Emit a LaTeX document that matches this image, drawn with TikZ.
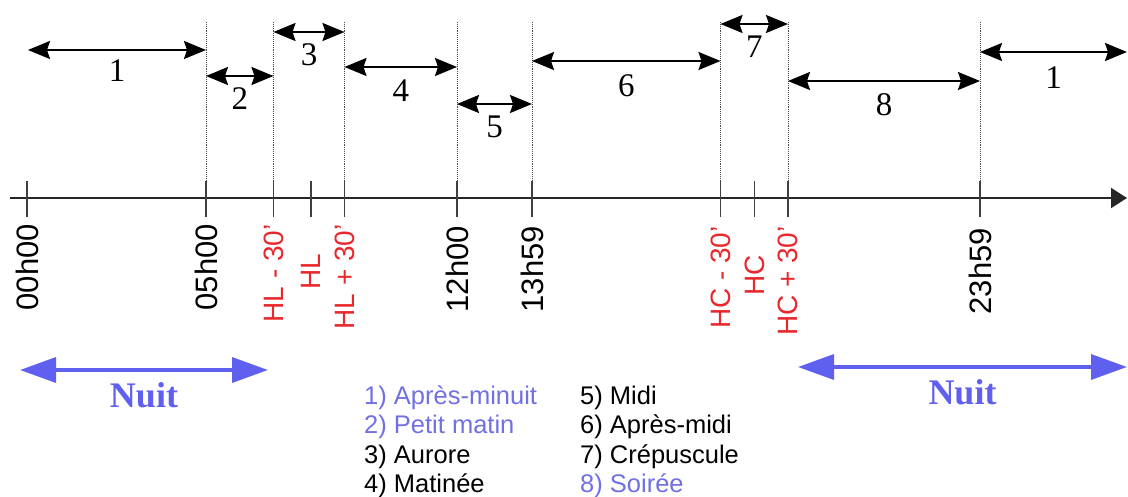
\documentclass[tikz,border=0pt]{standalone}
\usepackage{fontspec}
\setmainfont{Liberation Serif}
\setsansfont{Liberation Sans}
\usetikzlibrary{positioning,arrows.meta}
\definecolor{nuitblue}{RGB}{96,96,240}
\definecolor{legblue}{RGB}{112,112,226}
\definecolor{hourred}{RGB}{232,40,44}
\tikzset{
	span/.style={draw=black, line width=2pt, {Stealth[length=22pt,width=18pt,inset=3pt]}-{Stealth[length=22pt,width=18pt,inset=3pt]}},
	nuit/.style={draw=nuitblue, line width=3.5pt, {Triangle[length=36pt,width=25pt]}-{Triangle[length=36pt,width=25pt]}},
	axis/.style={draw=black!85, line width=2pt, -{Triangle[length=16pt,width=20pt]}},
	limit/.style={draw=black!70, densely dotted, line width=0.9pt},
	tickmark/.style={draw=black!75, line width=1.2pt},
	num/.style={font=\fontsize{33}{33}\selectfont, inner sep=0pt},
	nuitlabel/.style={font=\bfseries\fontsize{36}{36}\selectfont, text=nuitblue, inner sep=0pt},
	hour/.style={font=\sffamily\fontsize{31}{31}\selectfont, rotate=90, anchor=east, inner sep=0pt},
	redhour/.style={hour, font=\sffamily\fontsize{28}{28}\selectfont, text=hourred},
	legend/.style={font=\sffamily\fontsize{25.5}{29}\selectfont, anchor=base west, inner sep=0pt}
}
\begin{document}
\begin{tikzpicture}[x=1pt,y=-1pt]
		\useasboundingbox (0,0) rectangle (1128,497);
		% time axis
		\coordinate (a0) at (10,198);
		\coordinate (a1) at (1127,198);
		\coordinate (h00) at (27,198);
		\coordinate (h05) at (206,198);
		\coordinate (hlm) at (273.5,198);
		\coordinate (hl) at (311,198);
		\coordinate (hlp) at (344.5,198);
		\coordinate (h12) at (457,198);
		\coordinate (h13) at (532,198);
		\coordinate (hcm) at (720.5,198);
		\coordinate (hc) at (754.5,198);
		\coordinate (hcp) at (788,198);
		\coordinate (h23) at (980,198);
		
		\coordinate[above=176pt of h05] (d05);
		\coordinate[above=176pt of hlm] (dlm);
		\coordinate[above=176pt of hlp] (dlp);
		\coordinate[above=176pt of h12] (d12);
		\coordinate[above=176pt of h13] (d13);
		\coordinate[above=176pt of hcm] (dcm);
		\coordinate[above=176pt of hcp] (dcp);
		\coordinate[above=176pt of h23] (d23);
		
		\draw[limit] (d05) -- (h05);
		\draw[limit] (dlm) -- (hlm);
		\draw[limit] (dlp) -- (hlp);
		\draw[limit] (d12) -- (h12);
		\draw[limit] (d13) -- (h13);
		\draw[limit] (dcm) -- (hcm);
		\draw[limit] (dcp) -- (hcp);
		\draw[limit] (d23) -- (h23);
		
		\draw[axis] (a0) -- (a1);
		\draw[tickmark] ([yshift=17pt]h00) -- ([yshift=-19pt]h00);
		\draw[tickmark] ([yshift=17pt]h05) -- ([yshift=-19pt]h05);
		\draw[tickmark] ([yshift=17pt]hlm) -- ([yshift=-19pt]hlm);
		\draw[tickmark] ([yshift=17pt]hl) -- ([yshift=-19pt]hl);
		\draw[tickmark] ([yshift=17pt]hlp) -- ([yshift=-19pt]hlp);
		\draw[tickmark] ([yshift=17pt]h12) -- ([yshift=-19pt]h12);
		\draw[tickmark] ([yshift=17pt]h13) -- ([yshift=-19pt]h13);
		\draw[tickmark] ([yshift=17pt]hcm) -- ([yshift=-19pt]hcm);
		\draw[tickmark] ([yshift=17pt]hc) -- ([yshift=-19pt]hc);
		\draw[tickmark] ([yshift=17pt]hcp) -- ([yshift=-19pt]hcp);
		\draw[tickmark] ([yshift=17pt]h23) -- ([yshift=-19pt]h23);
		
		\node[hour] (t00) at (27,224) {00h00};
		\node[hour] (t05) at (206,224) {05h00};
		\node[redhour] (tlm) at (273.5,224) {HL - 30’};
		\node[redhour] (tl) at (311,254) {HL};
		\node[redhour] (tlp) at (344.5,224) {HL + 30’};
		\node[hour] (t12) at (457,226) {12h00};
		\node[hour] (t13) at (532,226) {13h59};
		\node[redhour] (tcm) at (720.5,226) {HC - 30’};
		\node[redhour] (tc) at (754.5,255) {HC};
		\node[redhour] (tcp) at (788,226) {HC + 30’};
		\node[hour] (t23) at (980,228) {23h59};
		
		% periods
		\coordinate (p1a) at (28,50);
		\coordinate (p1b) at (206,50);
		\coordinate (p2a) at (206,76);
		\coordinate (p2b) at (273.5,76);
		\coordinate (p3a) at (273.5,32);
		\coordinate (p3b) at (344.5,32);
		\coordinate (p4a) at (344.5,67);
		\coordinate (p4b) at (457,67);
		\coordinate (p5a) at (457,104);
		\coordinate (p5b) at (532,104);
		\coordinate (p6a) at (532,61);
		\coordinate (p6b) at (720.5,61);
		\coordinate (p7a) at (720.5,24);
		\coordinate (p7b) at (788,24);
		\coordinate (p8a) at (788,81);
		\coordinate (p8b) at (980,81);
		\coordinate (p9a) at (980,52);
		\coordinate (p9b) at (1127,52);
		
		\draw[span] (p1a) -- node[num, below=9pt] {1} (p1b);
		\draw[span] (p2a) -- node[num, below=11pt] {2} (p2b);
		\draw[span] (p3a) -- node[num, below=11pt] {3} (p3b);
		\draw[span] (p4a) -- node[num, below=12pt] {4} (p4b);
		\draw[span] (p5a) -- node[num, below=11pt] {5} (p5b);
		\draw[span] (p6a) -- node[num, below=13pt] {6} (p6b);
		\draw[span] (p7a) -- node[num, below=11pt] {7} (p7b);
		\draw[span] (p8a) -- node[num, below=12pt] {8} (p8b);
		\draw[span] (p9a) -- node[num, below=14pt] {1} (p9b);
		
		% night
		\coordinate (n1a) at (20,370);
		\coordinate (n1b) at (268,370);
		\coordinate (n2a) at (798,367);
		\coordinate (n2b) at (1127,367);
		\draw[nuit] (n1a) -- node[nuitlabel, below=11pt] {Nuit} (n1b);
		\draw[nuit] (n2a) -- node[nuitlabel, below=11pt] {Nuit} (n2b);
		
		% legend
		\node[legend, text=legblue] (l1) at (364,404) {1) Après-minuit};
		\node[legend, text=legblue] (l2) at (364,433) {2) Petit matin};
		\node[legend] (l3) at (364,463) {3) Aurore};
		\node[legend] (l4) at (364,492) {4) Matinée};
		\node[legend] (l5) at (580,404) {5) Midi};
		\node[legend] (l6) at (580,433) {6) Après-midi};
		\node[legend] (l7) at (580,463) {7) Crépuscule};
		\node[legend, text=legblue] (l8) at (580,492) {8) Soirée};
	\end{tikzpicture}
\end{document}
